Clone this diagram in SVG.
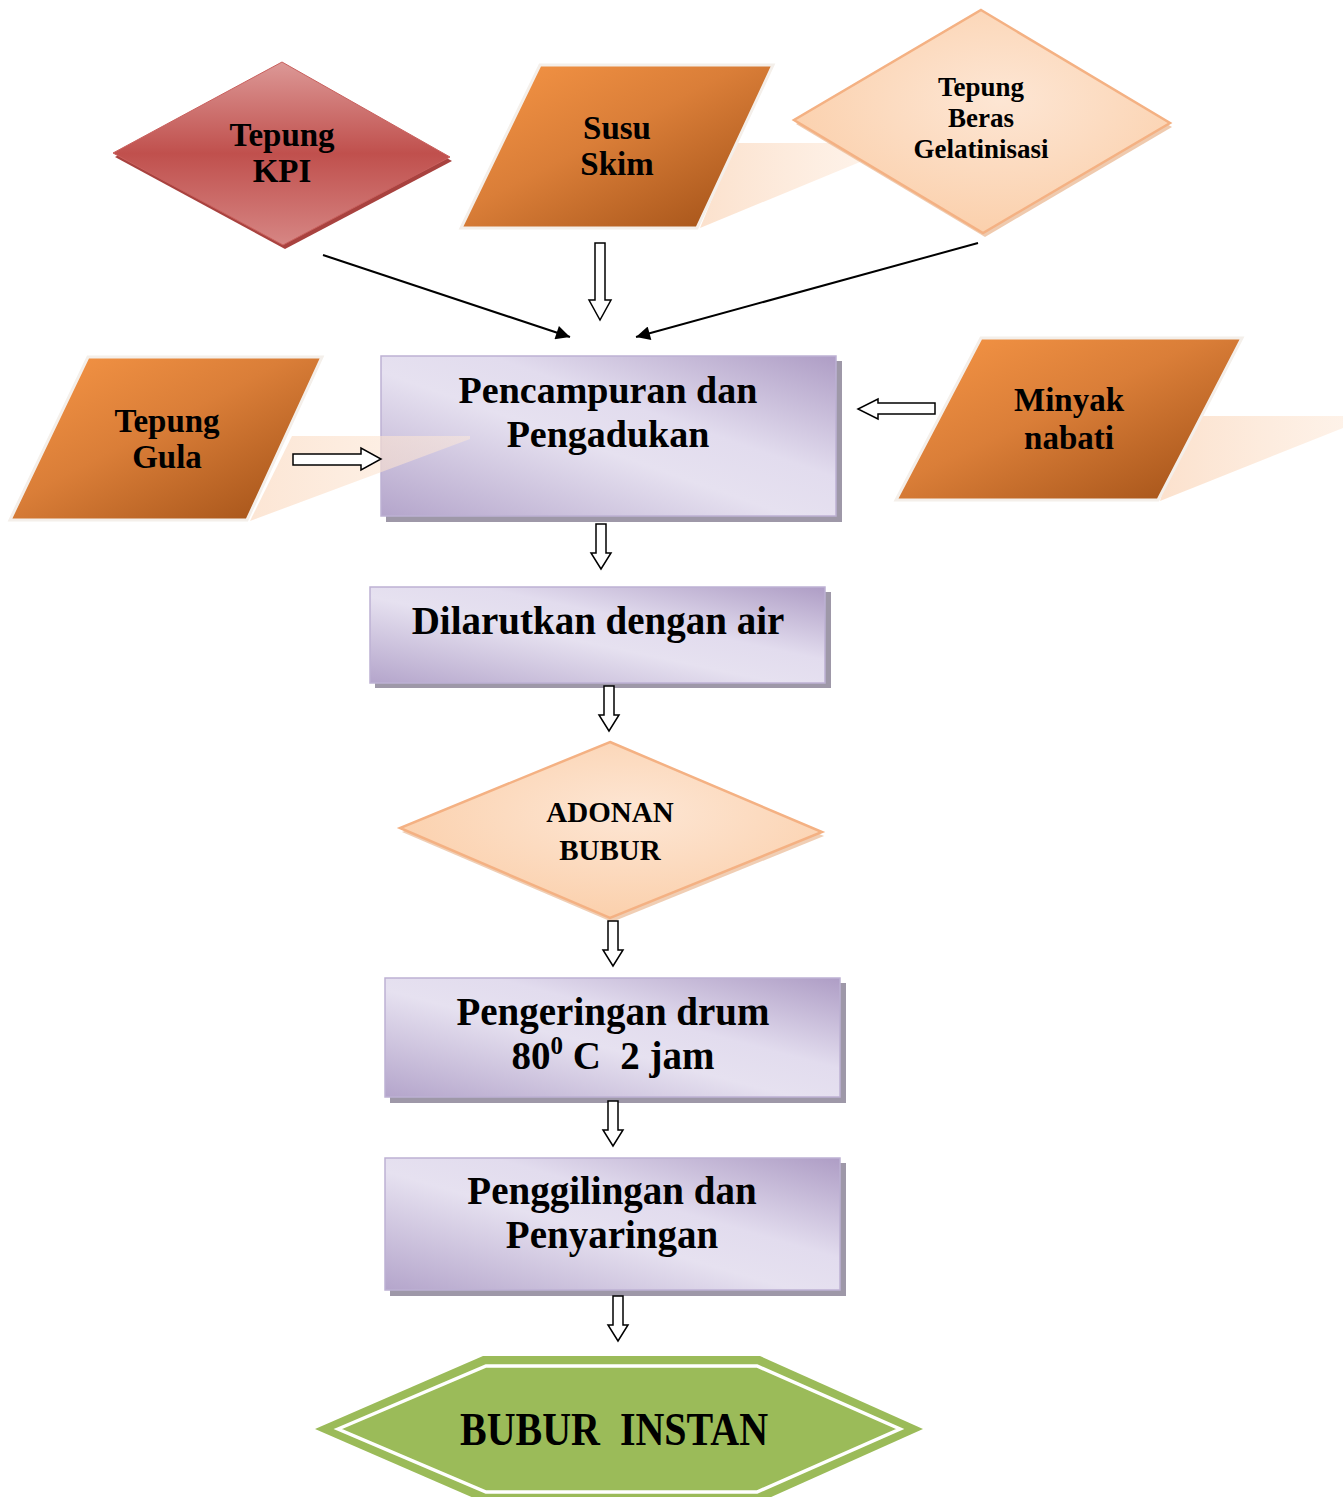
<svg xmlns="http://www.w3.org/2000/svg" width="1343" height="1497" viewBox="0 0 1343 1497">
<defs>
<linearGradient id="gRed" x1="0" y1="0" x2="0" y2="1">
<stop offset="0" stop-color="#dc9896"/><stop offset="0.5" stop-color="#c0504d"/><stop offset="1" stop-color="#d68684"/>
</linearGradient>
<linearGradient id="gOrange" x1="0" y1="0" x2="1" y2="1">
<stop offset="0" stop-color="#f79646"/><stop offset="0.45" stop-color="#da7e38"/><stop offset="1" stop-color="#9e4e15"/>
</linearGradient>
<radialGradient id="gPeach" cx="0.55" cy="0.4" r="0.6">
<stop offset="0" stop-color="#fde6d4"/><stop offset="1" stop-color="#fbd0ac"/>
</radialGradient>
<linearGradient id="gLav" x1="0" y1="1" x2="1" y2="0">
<stop offset="0" stop-color="#b4a5cb"/><stop offset="0.45" stop-color="#e6e1f0"/><stop offset="0.62" stop-color="#e2dcee"/><stop offset="1" stop-color="#ae9dc5"/>
</linearGradient>
<linearGradient id="gShadeR" x1="0" y1="0" x2="1" y2="0">
<stop offset="0" stop-color="#fbdcc4" stop-opacity="0.85"/><stop offset="1" stop-color="#fde9d9" stop-opacity="0.6"/>
</linearGradient>
<marker id="ah" viewBox="0 0 10 10" refX="10" refY="5" markerWidth="18" markerHeight="14" markerUnits="userSpaceOnUse" orient="auto">
<path d="M0,0 L10,5 L0,10 Z" fill="#000"/>
</marker>
</defs>
<style>
.t{font-family:"Liberation Serif","Times New Roman",serif;font-weight:bold;fill:#000;text-anchor:middle}
.box{fill:url(#gLav);stroke:#bdb1d3;stroke-width:1.5}
.bsh{fill:#9e98a8}
.par{fill:url(#gOrange);stroke:#f4efea;stroke-width:3}
.pd{fill:url(#gPeach);stroke:#f4b183;stroke-width:2.5}
.ba{fill:#fff;stroke:#000;stroke-width:1.5}
.ln{stroke:#000;stroke-width:2;fill:none}
.sh{fill:url(#gShadeR)}
</style>
<rect width="1343" height="1497" fill="#fff"/>

<!-- reflections -->
<polygon class="sh" points="735,143 860,143 860,162 700,228"/>
<polygon class="sh" points="1185,416 1343,416 1343,428 1160,501"/>

<g id="kpi">
<polygon points="284,66 452,161 285,249 115,157" fill="#a8423f"/>
<polygon points="282,62 450,157 283,245 113,153" fill="url(#gRed)" stroke="#c9605d" stroke-width="1"/>
<text class="t" x="282" y="146" font-size="33">Tepung</text>
<text class="t" x="282" y="182" font-size="33">KPI</text>
</g>

<g id="susu">
<polygon class="par" points="540,65 773,65 697,228 461,228"/>
<text class="t" x="617" y="139" font-size="33">Susu</text>
<text class="t" x="617" y="175" font-size="33">Skim</text>
</g>

<g id="beras">
<polygon points="983,14 1172,127 985,237 796,124" fill="#e8b48c" opacity="0.7"/>
<polygon class="pd" points="981,10 1170,123 983,233 794,120"/>
<text class="t" x="981" y="96" font-size="27">Tepung</text>
<text class="t" x="981" y="127" font-size="27">Beras</text>
<text class="t" x="981" y="158" font-size="27">Gelatinisasi</text>
</g>

<g id="gula">
<polygon class="par" points="88,357 322,357 247,520 10,520"/>
<text class="t" x="167" y="432" font-size="33">Tepung</text>
<text class="t" x="167" y="468" font-size="33">Gula</text>
</g>

<g id="pencampuran">
<rect class="bsh" x="386" y="361" width="456" height="161"/>
<rect class="box" x="381" y="356" width="455" height="160"/>
<polygon class="sh" points="292,436 470,436 470,439 250,521" opacity="0.85"/>
<text class="t" x="608" y="403" font-size="38">Pencampuran dan</text>
<text class="t" x="608" y="447" font-size="38">Pengadukan</text>
</g>

<g id="minyak">
<polygon class="par" points="981,338 1242,338 1158,500 896,500"/>
<text class="t" x="1069" y="411" font-size="33">Minyak</text>
<text class="t" x="1069" y="449" font-size="33">nabati</text>
</g>

<g id="dilarutkan">
<rect class="bsh" x="375" y="592" width="456" height="96"/>
<rect class="box" x="370" y="587" width="455" height="96"/>
<text class="t" x="598" y="634" font-size="39">Dilarutkan dengan air</text>
</g>

<g id="adonan">
<polygon points="612,746 824,836 612,922 402,832" fill="#e9b994" opacity="0.7"/>
<polygon class="pd" points="610,742 822,832 610,918 400,828"/>
<text class="t" x="610" y="822" font-size="29">ADONAN</text>
<text class="t" x="610" y="860" font-size="29">BUBUR</text>
</g>

<g id="pengeringan">
<rect class="bsh" x="390" y="983" width="456" height="120"/>
<rect class="box" x="385" y="978" width="455" height="119"/>
<text class="t" x="613" y="1025" font-size="39">Pengeringan drum</text>
<text class="t" x="613" y="1069" font-size="39" xml:space="preserve">80<tspan font-size="25" dy="-15">0</tspan><tspan dy="15"> C  2 jam</tspan></text>
</g>

<g id="penggilingan">
<rect class="bsh" x="390" y="1163" width="456" height="133"/>
<rect class="box" x="385" y="1158" width="455" height="132"/>
<text class="t" x="612" y="1204" font-size="39">Penggilingan dan</text>
<text class="t" x="612" y="1248" font-size="39">Penyaringan</text>
</g>

<g id="instan">
<polygon points="315,1429 483,1356 760,1356 923,1429 760,1502 483,1502" fill="#9bbb59"/>
<polygon points="338,1429 486,1366 757,1366 900,1429 757,1492 486,1492" fill="none" stroke="#fff" stroke-width="3.5"/>
<text class="t" x="614" y="1445" font-size="46" textLength="308" lengthAdjust="spacingAndGlyphs" xml:space="preserve">BUBUR  INSTAN</text>
</g>

<g id="connectors">
<line class="ln" x1="323" y1="255" x2="570" y2="337" marker-end="url(#ah)"/>
<line class="ln" x1="978" y1="243" x2="636" y2="337" marker-end="url(#ah)"/>
<polygon class="ba" points="595,243 605,243 605,300 611,300 600,320 589,300 595,300"/>
<polygon class="ba" points="293,454 361,454 361,448 381,459 361,470 361,465 293,465"/>
<polygon class="ba" points="935,403 878,403 878,399 858,409 878,419 878,414 935,414"/>
<polygon class="ba" points="596,524 606,524 606,553 611,553 601,569 591,553 596,553"/>
<polygon class="ba" points="604,686 614,686 614,715 619,715 609,731 599,715 604,715"/>
<polygon class="ba" points="608,921 618,921 618,950 623,950 613,966 603,950 608,950"/>
<polygon class="ba" points="608,1101 618,1101 618,1130 623,1130 613,1146 603,1130 608,1130"/>
<polygon class="ba" points="613,1296 623,1296 623,1325 628,1325 618,1341 608,1325 613,1325"/>
</g>
</svg>
